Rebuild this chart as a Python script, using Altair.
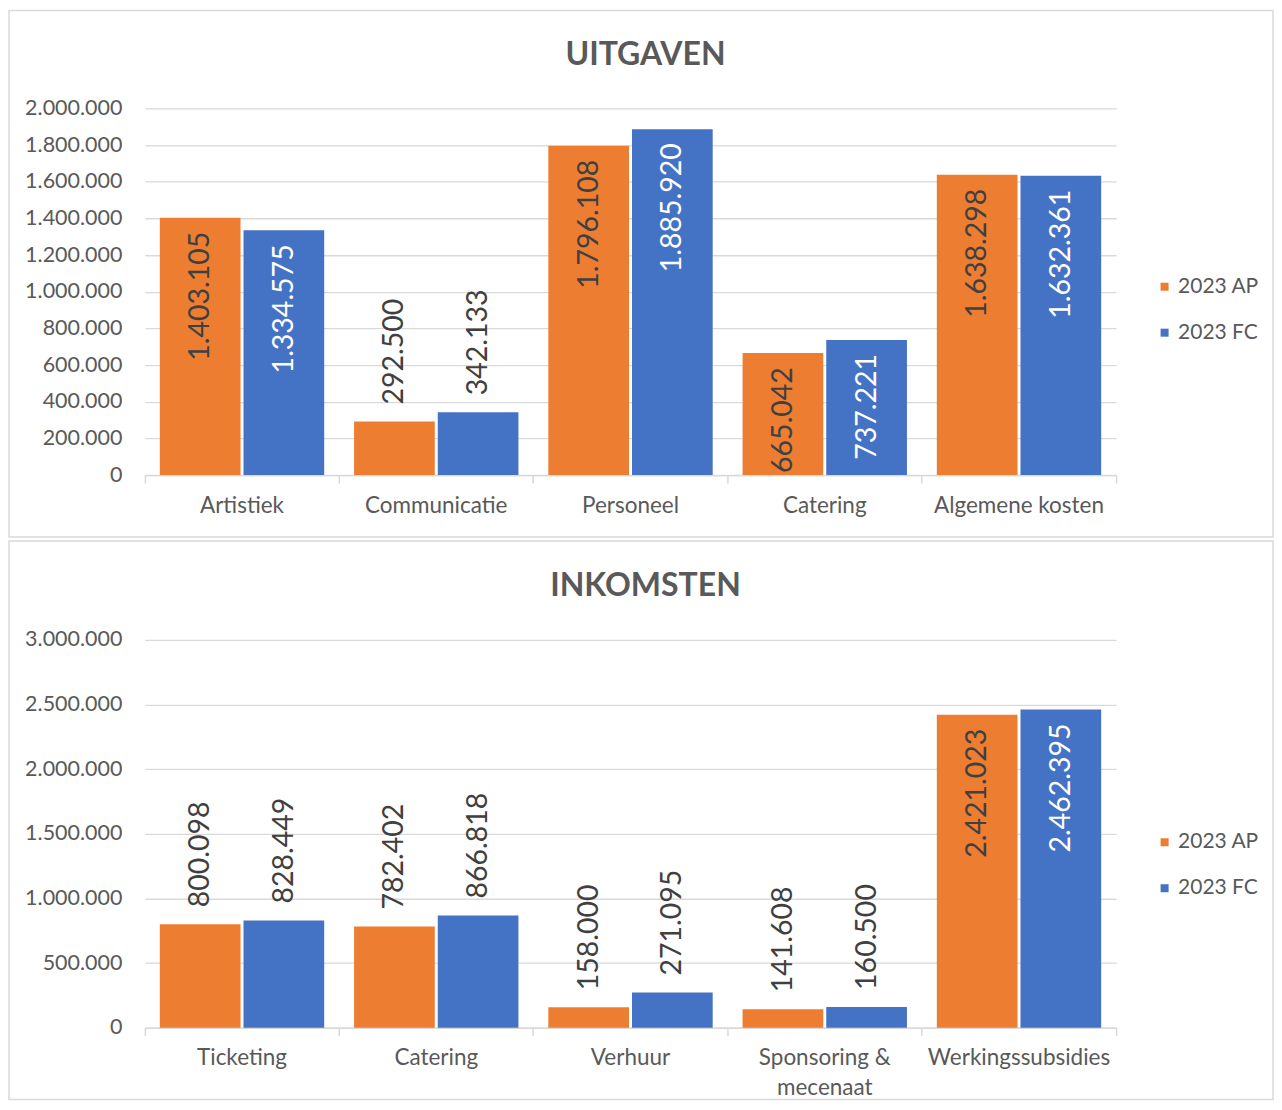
import altair as alt
import pandas as pd

series = ["2023 AP", "2023 FC"]
colors = ["#ED7D31", "#4472C4"]

uit_title = "UITGAVEN"
uit_cats = ["Artistiek", "Communicatie", "Personeel", "Catering", "Algemene kosten"]
uit_ap = [1403105, 292500, 1796108, 665042, 1638298]
uit_fc = [1334575, 342133, 1885920, 737221, 1632361]
uit_ticks = [0, 200000, 400000, 600000, 800000, 1000000, 1200000, 1400000, 1600000, 1800000, 2000000]

ink_title = "INKOMSTEN"
ink_cats = ["Ticketing", "Catering", "Verhuur", "Sponsoring & mecenaat", "Werkingssubsidies"]
ink_ap = [800098, 782402, 158000, 141608, 2421023]
ink_fc = [828449, 866818, 271095, 160500, 2462395]
ink_ticks = [0, 500000, 1000000, 1500000, 2000000, 2500000, 3000000]

FONT = "Lato"
TXT = "#595959"
GRID = "#D9D9D9"
W = 972


def make_df(cats, ap, fc):
    rows = []
    for c, a, f in zip(cats, ap, fc):
        rows.append({"cat": c, "series": series[0], "value": a})
        rows.append({"cat": c, "series": series[1], "value": f})
    df = pd.DataFrame(rows)
    df["label"] = df["value"].map(lambda v: f"{v:,}".replace(",", "."))
    return df


def panel(title, cats, ap, fc, ticks, height, legend_y, frame_top, frame_bottom, title_y):
    df = make_df(cats, ap, fc)
    ymax = ticks[-1]
    base = alt.Chart(df)
    x = alt.X(
        "cat:N",
        sort=cats,
        scale=alt.Scale(paddingInner=0, paddingOuter=0),
        axis=alt.Axis(
            title=None,
            labelAngle=0,
            labelFontSize=22.5,
            labelFont=FONT,
            labelColor=TXT,
            labelPadding=11,
            labelLineHeight=30,
            labelLimit=400,
            labelExpr="datum.value == 'Sponsoring & mecenaat' ? ['Sponsoring &', 'mecenaat'] : datum.label",
            domainColor=GRID,
            domainWidth=1.5,
            tickColor=GRID,
            tickWidth=1.5,
            tickSize=8,
            bandPosition=1,
            tickExtra=True,
            grid=False,
        ),
    )
    xo = alt.XOffset("series:N", sort=series, scale=alt.Scale(paddingInner=0.0357, paddingOuter=0.1786))
    y = alt.Y(
        "value:Q",
        scale=alt.Scale(domain=[0, ymax], nice=False),
        axis=alt.Axis(
            title=None,
            values=ticks,
            labelOverlap=False,
            labelFontSize=21.5,
            labelFont=FONT,
            labelColor=TXT,
            labelPadding=23,
            labelExpr="replace(format(datum.value, ','), regexp(',', 'g'), '.')",
            domain=False,
            ticks=False,
            grid=True,
            gridColor=GRID,
            gridWidth=1.3,
        ),
    )
    color = alt.Color(
        "series:N",
        sort=series,
        scale=alt.Scale(domain=series, range=colors),
        legend=alt.Legend(
            title=None,
            orient="none",
            legendX=W + 38,
            legendY=legend_y,
            symbolType="square",
            symbolSize=64,
            symbolStrokeWidth=0,
            labelFontSize=21,
            labelFont=FONT,
            labelColor=TXT,
            labelOffset=3,
            rowPadding=24,
            padding=0,
        ),
    )
    single = alt.Chart(pd.DataFrame({"t": [title]}))
    frame = single.mark_rect(fillOpacity=0, stroke=GRID, strokeWidth=1.5).encode(
        x=alt.value(-136), x2=alt.value(1129), y=alt.value(frame_top), y2=alt.value(frame_bottom)
    )
    head = single.mark_text(
        fontSize=32, font=FONT, fontWeight="bold", color=TXT, align="center", baseline="alphabetic"
    ).encode(text="t:N", x=alt.value(W / 2 + 15), y=alt.value(title_y))
    bars = base.mark_bar().encode(x=x, xOffset=xo, y=y, color=color)
    inside = base.transform_filter(f"datum.value / {ymax} > 0.3").mark_text(
        angle=270, align="right", baseline="middle", dx=-14, fontSize=28.5, font=FONT
    ).encode(
        x=x, xOffset=xo, y=y,
        text="label:N",
        color=alt.condition("datum.series == '2023 FC'", alt.value("#FFFFFF"), alt.value("#404040")),
    )
    outside = base.transform_filter(f"datum.value / {ymax} <= 0.3").mark_text(
        angle=270, align="left", baseline="middle", dx=17, fontSize=28.5, font=FONT, color="#404040"
    ).encode(x=x, xOffset=xo, y=y, text="label:N")
    return alt.layer(frame, head, bars, inside, outside).properties(width=W, height=height)


top = panel(uit_title, uit_cats, uit_ap, uit_fc, uit_ticks, 367, 168, -98, 429, -43)
bottom = panel(ink_title, ink_cats, ink_ap, ink_fc, ink_ticks, 388, 192, -99, 460, -44)

chart = (
    alt.vconcat(top, bottom, spacing=165, bounds="flush")
    .resolve_scale(color="independent", x="independent", y="independent")
    .configure(padding={"top": 1, "left": 0, "right": 0, "bottom": 0}, background="white")
    .configure_view(stroke=None)
)

chart.save("out.html", embed_options={"renderer": "svg", "actions": False})
